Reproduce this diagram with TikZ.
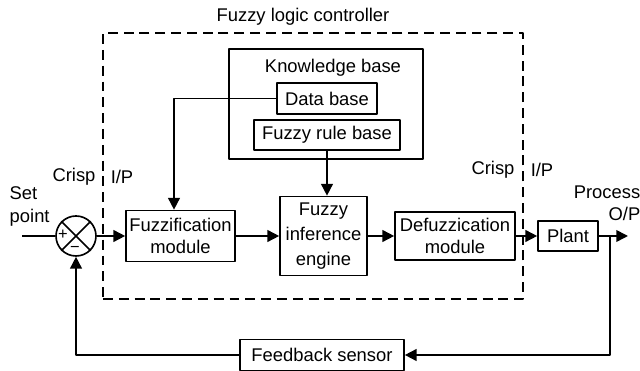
\documentclass[tikz,border=0pt]{standalone}
\usepackage{fontspec}
\setmainfont{Liberation Sans}
\usetikzlibrary{arrows.meta}
\begin{document}
\begin{tikzpicture}[x=0.03cm, y=0.03cm, font=\fontsize{15.7pt}{19pt}\selectfont, line width=1.4pt, line join=round, >={Triangle[length=10pt,width=10pt]},
    block/.style={draw, rectangle, align=center, inner sep=1pt},
    sumpoint/.style={draw, circle, minimum size=1.2cm, inner sep=0pt},
    signs/.style={font=\fontsize{14pt}{14pt}\selectfont, inner sep=0pt}]
	\useasboundingbox (0,0) rectangle (640,371);
	% controller frame and knowledge base
	\node[draw, dash pattern=on 8.5pt off 5pt, minimum width=12.6cm, minimum height=7.98cm] (flc) at (313,205) {};
	\node (flctitle) at (303,354) {Fuzzy logic controller};
	\node[block, minimum width=5.82cm, minimum height=3.3cm] (kb) at (326,267) {};
	\node (kbtitle) at (333,303) {Knowledge base};
	\node[block, minimum width=3cm, minimum height=0.93cm] (db) at (327,272.5) {Data base};
	\node[block, minimum width=4.38cm, minimum height=0.9cm] (rb) at (327,236) {Fuzzy rule base};
	% main loop
	\node[sumpoint] (sum) at (76,135) {};
	\draw (sum.north west) -- (sum.south east) (sum.north east) -- (sum.south west);
	\node[signs] at (63,136) {+};
	\node[signs] at (75,122) {−};
	\node[block, minimum width=3.27cm, minimum height=1.53cm] (fuzz) at (180.5,135) {Fuzzification\\module};
	\node[block, minimum width=2.61cm, minimum height=2.37cm, font=\fontsize{15.7pt}{21.5pt}\selectfont] (inf) at (323.5,135) {Fuzzy\\inference\\engine};
	\node[block, minimum width=3.6cm, minimum height=1.44cm] (defuzz) at (455,135) {Defuzzication\\module};
	\node[block, minimum width=1.8cm, minimum height=0.9cm] (plant) at (568,135) {Plant};
	\node[block, minimum width=4.92cm, minimum height=0.93cm] (sensor) at (322,16) {Feedback sensor};
	\coordinate (in) at (22,135);
	\coordinate (out) at (628,135);
	\coordinate (tap) at (610,135);
	\coordinate (dbturn) at (174,272.5);
	\draw (in) -- (sum.west);
	\draw[->] (sum.east) -- (fuzz.west);
	\draw[->] (fuzz) -- (inf);
	\draw[->] (inf) -- (defuzz);
	\draw[->] (defuzz) -- (plant);
	\draw[->] (plant.east) -- (out);
	\draw[->] (tap) |- (sensor.east);
	\draw[->] (sensor.west) -| (sum.south);
	\draw[->] (db.west) -- (dbturn) -- (dbturn |- fuzz.north);
	\draw[->] (rb.south) -- (rb.south |- inf.north);
	% labels
	\node[anchor=west, align=left] (setpt) at (5,164.5) {Set\\point};
	\node (crispin) at (74,194) {Crisp};
	\node (ipin) at (122,194) {I/P};
	\node (crispout) at (493,201) {Crisp};
	\node (ipout) at (542,201) {I/P};
	\node[anchor=east, align=right] (procout) at (645,168) {Process\\O/P};
\end{tikzpicture}
\end{document}
